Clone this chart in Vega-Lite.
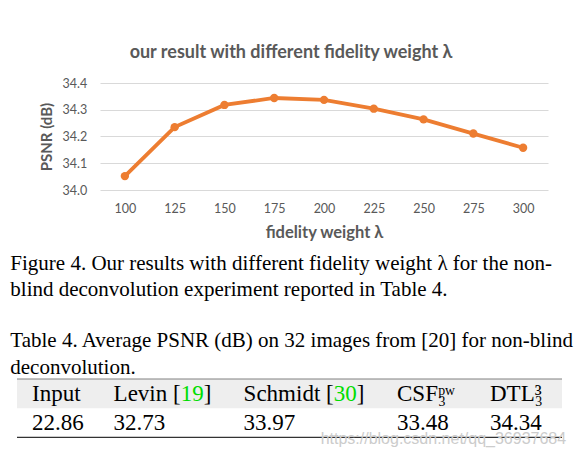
{
  "$schema": "https://vega.github.io/schema/vega-lite/v6.json",
  "background": "white",
  "padding": {"left": 10, "top": 44, "right": 0, "bottom": 0},
  "spacing": 11,
  "config": {"view": {"stroke": null}},
  "title": {"text": "https://blog.csdn.net/qq_36937684", "orient": "bottom", "anchor": "end", "frame": "bounds", "offset": -7, "dx": -8, "font": "Liberation Sans", "fontSize": 16, "fontWeight": "normal", "color": "#cccccc"},
  "vconcat": [
    {
      "spacing": 0,
      "bounds": "flush",
      "hconcat": [
        {
          "width": 83,
          "height": 107,
          "data": {"values": []},
          "mark": {"type": "point", "opacity": 0}
        },
        {
          "width": 448,
          "height": 107,
          "title": {"text": "our result with different fidelity weight λ", "anchor": "middle", "frame": "group", "dx": -33, "offset": 15, "font": "Lato", "fontSize": 18, "fontWeight": "bold", "color": "#595959"},
          "data": {"values": [
            {"lambda": 100, "psnr": 34.052},
            {"lambda": 125, "psnr": 34.235},
            {"lambda": 150, "psnr": 34.318},
            {"lambda": 175, "psnr": 34.344},
            {"lambda": 200, "psnr": 34.337},
            {"lambda": 225, "psnr": 34.304},
            {"lambda": 250, "psnr": 34.264},
            {"lambda": 275, "psnr": 34.211},
            {"lambda": 300, "psnr": 34.158}
          ]},
          "encoding": {
            "x": {"field": "lambda", "type": "ordinal", "scale": {"type": "point", "padding": 0.5},
              "axis": {"title": "fidelity weight λ", "labelAngle": 0, "domain": false, "ticks": false, "grid": false,
                "labelFont": "Lato", "labelFontSize": 12.5, "labelColor": "#595959", "labelPadding": 12.7,
                "titleFont": "Lato", "titleFontSize": 16.5, "titleFontWeight": "bold", "titleColor": "#595959", "titlePadding": 9}},
            "y": {"field": "psnr", "type": "quantitative", "scale": {"domain": [34.0, 34.4], "nice": false, "zero": false},
              "axis": {"title": "PSNR (dB)", "values": [34.0, 34.1, 34.2, 34.3, 34.4], "format": ".1f",
                "domain": false, "ticks": false, "gridColor": "#d9d9d9", "gridWidth": 1.2,
                "labelFont": "Lato", "labelFontSize": 12.5, "labelColor": "#595959", "labelPadding": 13.3,
                "titleFont": "Lato", "titleFontSize": 15, "titleFontWeight": "bold", "titleColor": "#595959", "titlePadding": 8}}
          },
          "layer": [
            {"mark": {"type": "line", "color": "#ed7d31", "strokeWidth": 3.8}},
            {"mark": {"type": "point", "filled": true, "color": "#ed7d31", "size": 70, "opacity": 1}}
          ]
        }
      ]
    },
    {
      "width": 545,
      "height": 58.4,
      "title": {
        "text": [
          "Figure 4. Our results with different fidelity weight λ for the non-",
          "blind deconvolution experiment reported in Table 4."
        ],
        "subtitle": [
          "Table 4. Average PSNR (dB) on 32 images from [20] for non-blind",
          "deconvolution."
        ],
        "anchor": "start", "frame": "group", "dx": -6.7, "offset": 0.5,
        "font": "Liberation Serif", "fontSize": 21, "fontWeight": "normal", "color": "#000000", "lineHeight": 26.7,
        "subtitleFont": "Liberation Serif", "subtitleFontSize": 21, "subtitleFontWeight": "normal", "subtitleColor": "#000000", "subtitleLineHeight": 27, "subtitlePadding": 29.5
      },
      "data": {"values": [
        {"row": "header", "col": 1, "frag": "main", "text": "Input", "tone": "body"},
        {"row": "header", "col": 2, "frag": "main", "text": "Levin [", "tone": "body"},
        {"row": "header", "col": 2, "frag": "after7", "text": "19", "tone": "cite"},
        {"row": "header", "col": 2, "frag": "after9", "text": "]", "tone": "body"},
        {"row": "header", "col": 3, "frag": "main", "text": "Schmidt [", "tone": "body"},
        {"row": "header", "col": 3, "frag": "after9", "text": "30", "tone": "cite"},
        {"row": "header", "col": 3, "frag": "after11", "text": "]", "tone": "body"},
        {"row": "header", "col": 4, "frag": "main", "text": "CSF", "tone": "body"},
        {"row": "header", "col": 4, "frag": "afterCSF", "text": "₃", "tone": "body"},
        {"row": "header", "col": 4, "frag": "afterCSF", "text": "ᵖʷ", "tone": "body"},
        {"row": "header", "col": 5, "frag": "main", "text": "DTL", "tone": "body"},
        {"row": "header", "col": 5, "frag": "afterDTL", "text": "₃", "tone": "body"},
        {"row": "header", "col": 5, "frag": "afterDTL", "text": "³", "tone": "body"},
        {"row": "values", "col": 1, "frag": "main", "text": "22.86", "tone": "body"},
        {"row": "values", "col": 2, "frag": "main", "text": "32.73", "tone": "body"},
        {"row": "values", "col": 3, "frag": "main", "text": "33.97", "tone": "body"},
        {"row": "values", "col": 4, "frag": "main", "text": "33.48", "tone": "body"},
        {"row": "values", "col": 5, "frag": "main", "text": "34.34", "tone": "body"}
      ]},
      "encoding": {
        "x": {"field": "col", "type": "quantitative", "scale": {"domain": [1, 2, 3, 4, 5], "range": [15, 96.6, 226.6, 380, 473], "zero": false, "nice": false}, "axis": null},
        "y": {"field": "row", "type": "nominal", "scale": {"type": "band", "domain": ["header", "values"], "paddingInner": 0, "paddingOuter": 0}, "axis": null},
        "text": {"field": "text"},
        "color": {"field": "tone", "type": "nominal", "scale": {"domain": ["body", "cite"], "range": ["#000000", "#00dd00"]}, "legend": null}
      },
      "layer": [
        {
          "transform": [{"filter": "datum.row === 'header' && datum.frag === 'main' && datum.col === 1"}],
          "mark": {"type": "rect", "color": "#eeeeee"},
          "encoding": {"x": null, "text": null, "color": null}
        },
        {
          "transform": [{"filter": "datum.row === 'header' && datum.frag === 'main' && datum.col === 1"}],
          "mark": {"type": "rule", "color": "#808080", "strokeWidth": 1},
          "encoding": {"x": null, "text": null, "color": null, "y": {"field": "row", "type": "nominal", "bandPosition": 0}}
        },
        {
          "transform": [{"filter": "datum.row === 'values' && datum.frag === 'main' && datum.col === 1"}],
          "mark": {"type": "rule", "color": "#333333", "strokeWidth": 1.4},
          "encoding": {"x": null, "text": null, "color": null, "y": {"field": "row", "type": "nominal", "bandPosition": 1}}
        },
        {
          "transform": [{"filter": "datum.frag === 'main'"}],
          "mark": {"type": "text", "align": "left", "baseline": "middle", "font": "Liberation Serif", "fontSize": 23}
        },
        {
          "transform": [{"filter": "datum.frag === 'after7'"}],
          "mark": {"type": "text", "align": "left", "baseline": "middle", "font": "Liberation Serif", "fontSize": 23, "dx": 67.07}
        },
        {
          "transform": [{"filter": "datum.frag === 'after9'"}],
          "mark": {"type": "text", "align": "left", "baseline": "middle", "font": "Liberation Serif", "fontSize": 23, "dx": 90.08}
        },
        {
          "transform": [{"filter": "datum.frag === 'after11'"}],
          "mark": {"type": "text", "align": "left", "baseline": "middle", "font": "Liberation Serif", "fontSize": 23, "dx": 113.09}
        },
        {
          "transform": [{"filter": "datum.frag === 'afterCSF'"}],
          "mark": {"type": "text", "align": "left", "baseline": "middle", "font": "Liberation Serif", "fontSize": 23, "dx": 40.92}
        },
        {
          "transform": [{"filter": "datum.frag === 'afterDTL'"}],
          "mark": {"type": "text", "align": "left", "baseline": "middle", "font": "Liberation Serif", "fontSize": 23, "dx": 44.71}
        }
      ]
    }
  ]
}
